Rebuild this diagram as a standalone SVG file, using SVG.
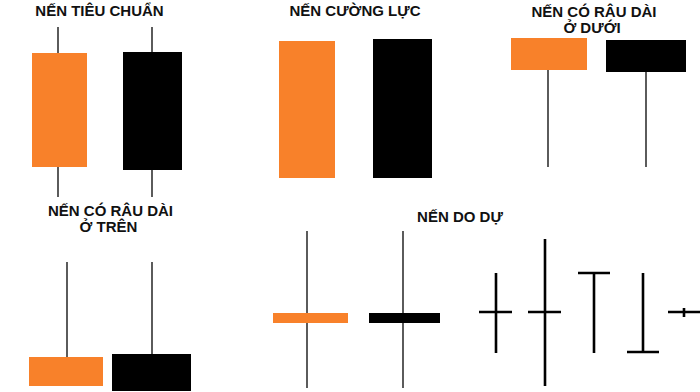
<svg xmlns="http://www.w3.org/2000/svg" width="700" height="392" viewBox="0 0 700 392">
<style>
.t{font-family:"Liberation Sans",Arial,sans-serif;font-weight:bold;font-size:15px;fill:#111;text-anchor:middle}
.o{fill:#F8812A}
.k{fill:#000}
.w{stroke:#333;stroke-width:1.6;fill:none}
.x{stroke:#000;stroke-width:2.6;fill:none}
</style>
<rect width="700" height="392" fill="#fff"/>
<g id="labels">
<text class="t" x="99.5" y="16">NẾN TIÊU CHUẨN</text>
<text class="t" x="355" y="16">NẾN CƯỜNG LỰC</text>
<text class="t" x="594" y="17">NẾN CÓ RÂU DÀI</text>
<text class="t" x="592" y="33">Ở DƯỚI</text>
<text class="t" x="110.5" y="216">NẾN CÓ RÂU DÀI</text>
<text class="t" x="108.5" y="232">Ở TRÊN</text>
<text class="t" x="460" y="222">NẾN DO DỰ</text>
</g>
<g id="standard">
<line class="w" x1="58" y1="27" x2="58" y2="197"/>
<rect class="o" x="32" y="53" width="55" height="114"/>
<line class="w" x1="152" y1="27" x2="152" y2="197"/>
<rect class="k" x="123" y="52" width="59" height="118"/>
</g>
<g id="strong">
<rect class="o" x="279" y="41" width="56" height="137"/>
<rect class="k" x="373" y="39" width="59" height="139"/>
</g>
<g id="lower-shadow">
<line class="w" x1="548" y1="60" x2="548" y2="167"/>
<rect class="o" x="511" y="38" width="76" height="32"/>
<line class="w" x1="646" y1="60" x2="646" y2="167"/>
<rect class="k" x="606" y="40" width="80" height="32"/>
</g>
<g id="upper-shadow">
<line class="w" x1="67" y1="262" x2="67" y2="360"/>
<rect class="o" x="29" y="357" width="74" height="29"/>
<line class="w" x1="152" y1="262" x2="152" y2="360"/>
<rect class="k" x="112" y="354" width="79" height="37"/>
</g>
<g id="indecision">
<line class="w" x1="307" y1="231" x2="307" y2="388"/>
<rect class="o" x="273" y="313" width="75" height="10"/>
<line class="w" x1="403" y1="231" x2="403" y2="388"/>
<rect class="k" x="369" y="313" width="71" height="10"/>
</g>
<g id="doji">
<path class="x" d="M496 273V353M479 312H512"/>
<path class="x" d="M545 239V386M528 312H561"/>
<path class="x" d="M594 273V353M578 273H610"/>
<path class="x" d="M643 273V352M627 352H659"/>
<path class="x" d="M668 312H700M684 308V317"/>
</g>
</svg>
